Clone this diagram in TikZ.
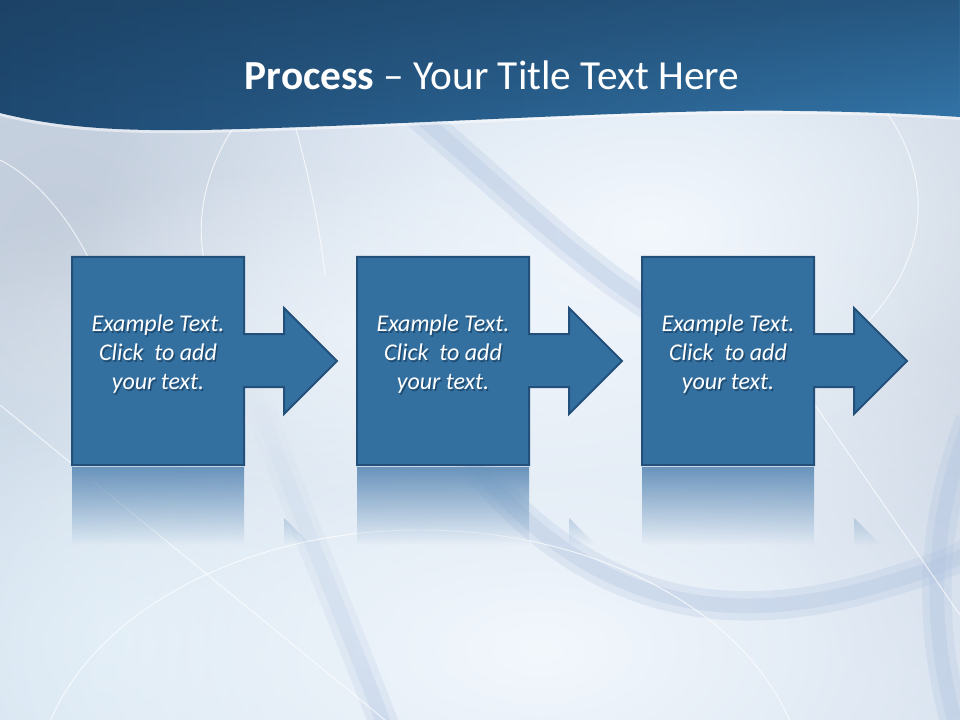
\documentclass[tikz,border=0pt]{standalone}
\usepackage{fontspec}
\setmainfont{Carlito}
\usetikzlibrary{fadings}
\definecolor{bgbase}{HTML}{CEDBEB}
\definecolor{bggray}{HTML}{C2CCDA}
\definecolor{bandc}{HTML}{AFC3E0}
\definecolor{bandl}{HTML}{1F4A72}
\definecolor{bandr}{HTML}{3477AB}
\definecolor{bandtop}{HTML}{1B3D5E}
\definecolor{boxfill}{HTML}{3370A0}
\definecolor{boxline}{HTML}{23507A}
\definecolor{reflc}{HTML}{6A94BC}
\definecolor{shadowc}{HTML}{102C48}
\definecolor{lightc}{HTML}{DCEBF5}
\definecolor{glow}{HTML}{F3F8FD}
\tikzfading[name=soft, inner color=transparent!0, outer color=transparent!100]
\tikzfading[name=fadedown, top color=transparent!0, bottom color=transparent!100]
\tikzfading[name=fadeup, top color=transparent!100, bottom color=transparent!0]
\begin{document}
\begin{tikzpicture}[x=0.75pt,y=-0.75pt,
  thinw/.style={white, line width=0.7pt, opacity=0.75},
  bandwide/.style={bandc, opacity=0.25, line cap=butt},
  bandcore/.style={bandc, opacity=0.3, line cap=butt},
  boxshape/.style={fill=boxfill, draw=boxline, line width=1.5pt, line join=miter},
  boxtext/.style={text=white, align=center, font=\fontsize{18}{21.75}\selectfont\itshape, inner sep=0pt},
  boxshadow/.style={text=shadowc, text opacity=0.55, align=center, font=\fontsize{18}{21.75}\selectfont\itshape, inner sep=0pt},
  titletext/.style={text=white, font=\fontsize{31}{37}\selectfont, inner sep=0pt}]
\useasboundingbox (0,0) rectangle (960,720);
\clip (0,0) rectangle (960,720);
% ---------- background ----------
\fill[bgbase] (0,0) rectangle (960,720);
\fill[bggray, path fading=soft] (60,260) ellipse (380 and 460);
\fill[bggray, path fading=soft] (990,280) ellipse (280 and 440);
\fill[glow, path fading=soft] (650,230) ellipse (560 and 330);
\fill[lightc, path fading=soft] (110,640) ellipse (420 and 380);
\fill[glow, path fading=soft] (540,650) ellipse (660 and 380);
\fill[glow, path fading=soft, fill opacity=0.7] (420,330) ellipse (520 and 170);
% soft bands
\foreach \w/\s in {22pt/bandwide, 11pt/bandcore} {
  \draw[\s, line width=\w, path fading=fadeup] (250,380) .. controls (300,520) and (345,620) .. (390,740);
  \draw[\s, line width=\w] (400,360) .. controls (520,560) and (660,650) .. (880,585) .. controls (930,570) and (960,560) .. (990,540);
  \draw[\s, line width=\w] (400,100) .. controls (520,200) and (600,290) .. (720,345);
  \draw[\s, line width=\w] (970,420) .. controls (925,540) and (930,640) .. (960,740);
}
\draw[thinw] (420,795) ellipse (385 and 265);
\draw[thinw] (0,405) -- (385,720);
\draw[thinw] (815,405) -- (960,615);
\draw[thinw] (885,110) .. controls (935,180) and (930,260) .. (860,330);
\draw[thinw] (0,160) .. controls (40,180) and (80,230) .. (100,285);
\draw[thinw] (235,125) .. controls (205,170) and (195,220) .. (205,265);
\draw[thinw] (295,125) .. controls (310,180) and (320,230) .. (325,275);
% ---------- title banner ----------
\def\bannerpath{(0,0) -- (960,0) -- (960,117) .. controls (930,115) and (880,112) .. (800,111) .. controls (650,108) and (400,126) .. (200,130) .. controls (120,131) and (60,128) .. (0,113) -- cycle}
\fill[white, opacity=0.5] (0,116) .. controls (60,131) and (120,134) .. (200,133) .. controls (400,129) and (650,111) .. (800,114) .. controls (880,115) and (930,118) .. (960,120) -- (960,110) -- (0,110) -- cycle;
\shade[left color=bandl, right color=bandr] \bannerpath;
\fill[bandtop, path fading=fadedown, fill opacity=0.55] \bannerpath;
\node[titletext] (title) at (492,75) {\textbf{Process} – Your Title Text Here};
% ---------- process boxes ----------
\foreach \i/\dx in {1/0,2/285,3/570} {
  \begin{scope}[xshift={\dx*0.75pt}]
    \begin{scope}
      \clip (72,467) rectangle (244,545) (284,518) -- (284,545) -- (311,545) -- cycle;
      \fill[reflc, path fading=fadedown] (60,467) rectangle (345,545);
    \end{scope}
    \draw[boxshape] (72,257) -- (244,257) -- (244,334) -- (284,334) -- (284,308) -- (337,361) -- (284,414) -- (284,387) -- (244,387) -- (244,465) -- (72,465) -- cycle;
    \node[boxshadow] at (159.5,356) {Example Text.\\Click \ to add\\your text.};
    \node[boxtext] (box\i) at (158,354) {Example Text.\\Click \ to add\\your text.};
  \end{scope}
}
\end{tikzpicture}
\end{document}
